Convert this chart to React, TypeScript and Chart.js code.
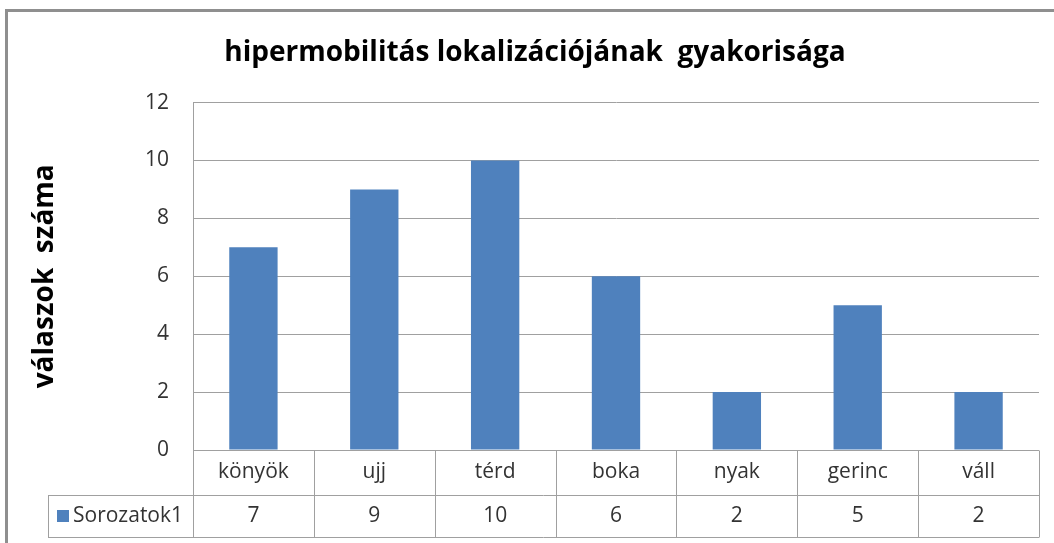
import React, { useEffect, useRef } from "react";
import { Chart, registerables } from "chart.js";

Chart.register(...registerables);

const categories = ["könyök", "ujj", "térd", "boka", "nyak", "gerinc", "váll"];
const seriesName = "Sorozatok1";
const values = [7, 9, 10, 6, 2, 5, 2];
const yMin = 0;
const yMax = 12;
const yStep = 2;
const chartTitle = "hipermobilitás lokalizációjának  gyakorisága";
const yAxisTitle = "válaszok  száma";

const BAR = "#4f81bd";
const LINE = "#a0a0a0";
const FRAME = "#8f8f8f";
const TEXT = "#333333";
const FONT = "'Open Sans', 'DejaVu Sans', sans-serif";

const crisp = (v: number) => Math.round(v) + 0.5;

const tablePlugin = {
  id: "dataTable",
  beforeDraw(chart: any) {
    const ctx = chart.ctx;
    ctx.save();
    ctx.fillStyle = "#ffffff";
    ctx.fillRect(0, 0, chart.width, chart.height);
    ctx.fillStyle = FRAME;
    ctx.fillRect(5, 9, 3, chart.height - 9);
    ctx.fillRect(5, 9, chart.width - 5, 3);
    ctx.restore();
  },
  afterDraw(chart: any) {
    const { ctx, chartArea } = chart;
    const x = chart.scales.x;
    const labels: string[] = chart.data.labels;
    const ds = chart.data.datasets[0];
    const n = labels.length;
    const half = n > 1 ? (x.getPixelForValue(1) - x.getPixelForValue(0)) / 2 : x.width / 2;
    const top = chartArea.bottom;
    const mid = top + 45;
    const bottom = top + 87;
    const legendLeft = 48;
    const right = x.getPixelForValue(n - 1) + half;

    ctx.save();
    ctx.strokeStyle = LINE;
    ctx.lineWidth = 1;
    ctx.beginPath();
    ctx.moveTo(chartArea.left, crisp(top));
    ctx.lineTo(right, crisp(top));
    ctx.moveTo(legendLeft, crisp(mid));
    ctx.lineTo(right, crisp(mid));
    ctx.moveTo(legendLeft, crisp(bottom));
    ctx.lineTo(right, crisp(bottom));
    ctx.moveTo(crisp(legendLeft), crisp(mid));
    ctx.lineTo(crisp(legendLeft), crisp(bottom));
    for (let i = 0; i <= n; i++) {
      const bx = i < n ? x.getPixelForValue(i) - half : right;
      ctx.moveTo(crisp(bx), crisp(top));
      ctx.lineTo(crisp(bx), crisp(bottom));
    }
    ctx.stroke();

    ctx.fillStyle = TEXT;
    ctx.font = `21px ${FONT}`;
    ctx.textAlign = "center";
    ctx.textBaseline = "middle";
    for (let i = 0; i < n; i++) {
      const cx = x.getPixelForValue(i);
      ctx.fillText(labels[i], cx, (top + mid) / 2);
      ctx.fillText(String(ds.data[i]), cx, (mid + bottom) / 2);
    }
    ctx.fillStyle = ds.backgroundColor;
    ctx.fillRect(57, (mid + bottom) / 2 - 6, 12, 12);
    ctx.fillStyle = TEXT;
    ctx.textAlign = "left";
    ctx.fillText(ds.label, 73, (mid + bottom) / 2);
    ctx.restore();
  },
};

export default function App() {
  const ref = useRef<HTMLCanvasElement | null>(null);

  useEffect(() => {
    if (!ref.current) return;
    const chart = new Chart(ref.current, {
      type: "bar",
      data: {
        labels: categories,
        datasets: [
          {
            label: seriesName,
            data: values,
            backgroundColor: BAR,
            borderWidth: 0,
            barPercentage: 0.4,
            categoryPercentage: 1,
          },
        ],
      },
      options: {
        animation: false,
        responsive: false,
        layout: { padding: { left: 31, right: 15, top: 0, bottom: 93 } },
        plugins: {
          legend: { display: false },
          tooltip: { enabled: false },
          title: {
            display: true,
            text: chartTitle,
            color: "#000000",
            font: { family: FONT, size: 28, weight: "bold" },
            padding: { top: 36, bottom: 33 },
          },
        },
        scales: {
          x: {
            display: false,
            offset: true,
          },
          y: {
            min: yMin,
            max: yMax,
            ticks: {
              stepSize: yStep,
              color: TEXT,
              font: { family: FONT, size: 21 },
              padding: 24,
            },
            grid: { color: LINE, drawTicks: false },
            border: { color: LINE },
            title: {
              display: true,
              text: yAxisTitle,
              color: "#000000",
              font: { family: FONT, size: 28, weight: "bold" },
              padding: { top: -3, bottom: 0 },
            },
            afterFit: (scale: any) => {
              scale.width = 162;
            },
          },
        },
      },
      plugins: [tablePlugin],
    });
    return () => chart.destroy();
  }, []);

  return (
    <div style={{ position: "absolute", left: 0, top: 0, width: 1054, height: 543 }}>
      <canvas ref={ref} width={1054} height={543} />
    </div>
  );
}
